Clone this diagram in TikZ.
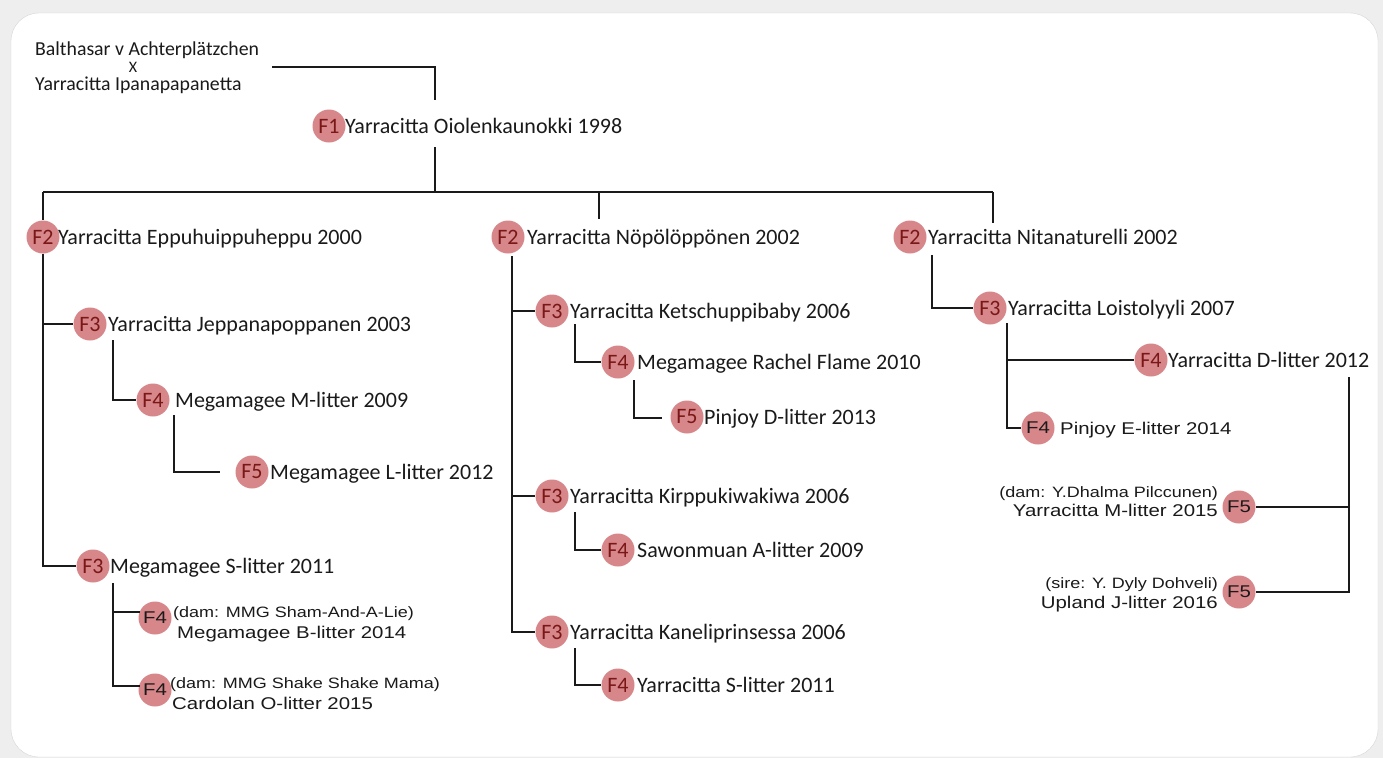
\documentclass[tikz,border=0pt]{standalone}
\usepackage{fontspec}
\setmainfont{Carlito}
\newfontfamily\arl[FakeStretch=1.2]{Liberation Sans}
\definecolor{bfill}{HTML}{D7868A}
\definecolor{btext}{HTML}{7A1818}
\definecolor{bgout}{HTML}{EEEEEE}
\definecolor{cardline}{HTML}{D6D6D6}
\definecolor{ink}{HTML}{1A1A1A}
\tikzset{
 ln/.style={line width=2.7pt, draw=ink},
 badge/.style={circle, fill=bfill, minimum size=33pt, inner sep=0pt, text=btext, font=\fontsize{22}{22}\selectfont},
 badgeA/.style={badge, text=ink, font=\arl\fontsize{17}{17}\selectfont},
 lbl/.style={anchor=base west, inner sep=0pt, text=ink, font=\fontsize{22}{22}\selectfont},
 lblA/.style={anchor=base west, inner sep=0pt, text=ink, font=\arl\fontsize{17}{17}\selectfont},
 noteA/.style={anchor=base west, inner sep=0pt, text=ink, font=\arl\fontsize{15}{15}\selectfont},
 pairtxt/.style={anchor=base west, inner sep=0pt, text=ink, font=\fontsize{19.8}{20}\selectfont},
}
\begin{document}
\begin{tikzpicture}[x=1pt,y=-1pt]
\useasboundingbox (0,0) rectangle (1383,758);
\fill[bgout] (0,0) rectangle (1383,758);
\draw[cardline, fill=white, rounded corners=28pt] (11,13) rectangle (1378,757);

% top pair
\node[pairtxt] (bal) at (35,55) {Balthasar v Achterplätzchen};
\node[pairtxt, anchor=base, font=\fontsize{16}{16}\selectfont] (xx) at (133,72) {X};
\node[pairtxt] (ipa) at (35,90) {Yarracitta Ipanapapanetta};
\coordinate (p0) at (272,67);
\coordinate (p1) at (435,100);
\draw[ln] (p0) -| (p1);

% F1
\node[badge] (b1) at (329,126) {F1};
\node[lbl] (t1) at (345,133) {Yarracitta Oiolenkaunokki 1998};
\coordinate (d1) at (435,147);
\coordinate (barL) at (43,192);
\coordinate (barC) at (435,192);
\coordinate (barM) at (599,192);
\coordinate (barR) at (993,192);
\coordinate (mEnd) at (599,219);
\coordinate (rEnd) at (993,223);

% left branch
\node[badge] (b2a) at (43,237) {F2};
\node[lbl] (t2a) at (58,244) {Yarracitta Eppuhuippuheppu 2000};
\node[badge] (b3a) at (90,324) {F3};
\node[lbl] (t3a) at (108,331) {Yarracitta Jeppanapoppanen 2003};
\node[badge] (b4a) at (153,400) {F4};
\node[lbl] (t4a) at (175,407) {Megamagee M-litter 2009};
\node[badge] (b5a) at (252,472) {F5};
\node[lbl] (t5a) at (270,479) {Megamagee L-litter 2012};
\node[badge] (b3b) at (93,566) {F3};
\node[lbl] (t3b) at (110,573) {Megamagee S-litter 2011};
\node[badgeA] (b4b) at (155,618) {F4};
\node[noteA] (n4b) at (173,617) {(dam: MMG Sham-And-A-Lie)};
\node[lblA] (t4b) at (177,638) {Megamagee B-litter 2014};
\node[badgeA] (b4c) at (155,690) {F4};
\node[noteA] (n4c) at (170,688) {(dam: MMG Shake Shake Mama)};
\node[lblA] (t4c) at (172,709) {Cardolan O-litter 2015};

% middle branch
\node[badge] (b2b) at (508,237) {F2};
\node[lbl] (t2b) at (527,244) {Yarracitta Nöpölöppönen 2002};
\node[badge] (b3c) at (552,311) {F3};
\node[lbl] (t3c) at (570,318) {Yarracitta Ketschuppibaby 2006};
\node[badge] (b4d) at (618,362) {F4};
\node[lbl] (t4d) at (637,369) {Megamagee Rachel Flame 2010};
\node[badge] (b5b) at (687,417) {F5};
\node[lbl] (t5b) at (704,424) {Pinjoy D-litter 2013};
\node[badge] (b3d) at (552,496) {F3};
\node[lbl] (t3d) at (570,503) {Yarracitta Kirppukiwakiwa 2006};
\node[badge] (b4e) at (618,550) {F4};
\node[lbl] (t4e) at (637,557) {Sawonmuan A-litter 2009};
\node[badge] (b3e) at (552,632) {F3};
\node[lbl] (t3e) at (570,639) {Yarracitta Kaneliprinsessa 2006};
\node[badge] (b4f) at (618,685) {F4};
\node[lbl] (t4f) at (637,692) {Yarracitta S-litter 2011};

% right branch
\node[badge] (b2c) at (910,237) {F2};
\node[lbl] (t2c) at (928,244) {Yarracitta Nitanaturelli 2002};
\node[badge] (b3f) at (990,308) {F3};
\node[lbl] (t3f) at (1008,315) {Yarracitta Loistolyyli 2007};
\node[badge] (b4g) at (1151,360) {F4};
\node[lbl] (t4g) at (1168,367) {Yarracitta D-litter 2012};
\node[badgeA] (b4h) at (1038,428) {F4};
\node[lblA] (t4h) at (1060,434) {Pinjoy E-litter 2014};
\node[badgeA] (b5c) at (1239,507) {F5};
\node[noteA, anchor=base east] (n5c) at (1218,497) {(dam: Y.Dhalma Pilccunen)};
\node[lblA, anchor=base east] (t5c) at (1218,516) {Yarracitta M-litter 2015};
\node[badgeA] (b5d) at (1239,592) {F5};
\node[noteA, anchor=base east] (n5d) at (1218,588) {(sire: Y. Dyly Dohveli)};
\node[lblA, anchor=base east] (t5d) at (1218,608) {Upland J-litter 2016};

% connectors
\draw[ln] (d1) -- (barC);
\draw[ln] (barL) -- (barR);
\draw[ln] (barL) -- (b2a.north);
\draw[ln] (barM) -- (mEnd);
\draw[ln] (barR) -- (rEnd);

\draw[ln] (b2a.south) |- (b3b.west);
\draw[ln] (b2a.south |- b3a.west) -- (b3a.west);
\coordinate (s3a) at (113,340);
\draw[ln] (s3a) |- (b4a.west);
\coordinate (s4a) at (174,415);
\coordinate (e5a) at (220,472);
\draw[ln] (s4a) |- (e5a);
\coordinate (s3b) at (113,583);
\coordinate (e4b) at (140,612);
\coordinate (e4c) at (140,686);
\draw[ln] (s3b) |- (e4c);
\draw[ln] (s3b |- e4b) -- (e4b);

\coordinate (v2b) at (512,256);
\draw[ln] (v2b) |- (b3e.west);
\draw[ln] (v2b |- b3c.west) -- (b3c.west);
\draw[ln] (v2b |- b3d.west) -- (b3d.west);
\coordinate (s3c) at (575,324);
\draw[ln] (s3c) |- (b4d.west);
\coordinate (s4d) at (634,380);
\coordinate (e5b) at (662,418);
\draw[ln] (s4d) |- (e5b);
\coordinate (s3d) at (575,512);
\draw[ln] (s3d) |- (b4e.west);
\coordinate (s3e) at (575,648);
\draw[ln] (s3e) |- (b4f.west);

\coordinate (s2c) at (932,255);
\draw[ln] (s2c) |- (b3f.west);
\coordinate (s3f) at (1007,323);
\draw[ln] (s3f) |- (b4h.west);
\draw[ln] (s3f |- b4g.west) -- (b4g.west);
\coordinate (rv) at (1349,377);
\draw[ln] (rv) |- (b5d.east);
\draw[ln] (rv |- b5c.east) -- (b5c.east);
\end{tikzpicture}
\end{document}
